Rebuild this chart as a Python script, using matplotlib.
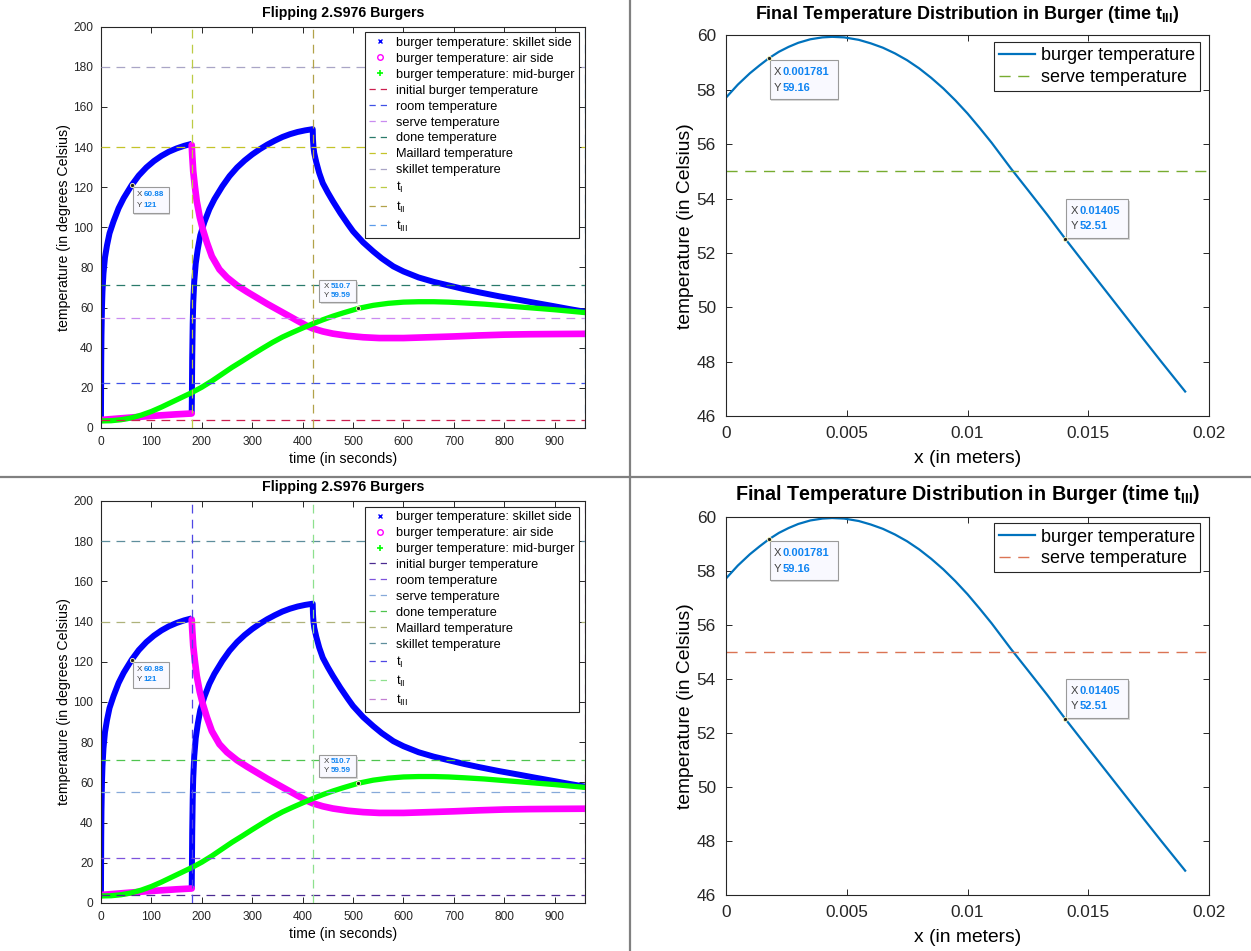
import matplotlib
matplotlib.use('Agg')
import matplotlib.pyplot as plt
import matplotlib.transforms as mtransforms
from matplotlib.lines import Line2D
from matplotlib.patches import Rectangle

plt.rcParams['font.family'] = ['Liberation Sans', 'DejaVu Sans']
plt.rcParams['mathtext.fontset'] = 'custom'
plt.rcParams['mathtext.rm'] = 'Liberation Sans'
plt.rcParams['mathtext.it'] = 'Liberation Sans:italic'
plt.rcParams['mathtext.bf'] = 'Liberation Sans:bold'

# --- burger surface / middle temperatures over time (s, deg C) ---
# skillet side, first side down (0 .. t_I)
skillet_t1 = [0, 0.2, 0.5, 1, 2, 3, 5, 8, 12, 17, 25, 35, 45, 60.88, 75, 90, 105,
              120, 135, 150, 165, 180]
skillet_T1 = [4, 16, 32, 46, 60, 68, 77, 85, 91, 97, 103, 109.5, 114.5, 121, 125.8, 129.8,
              133, 135.6, 137.7, 139.3, 140.6, 141.6]
# skillet side after first flip (t_I .. t_II), then off the heat (t_II .. t_III)
skillet_t2 = [180, 180.2, 180.5, 181, 182, 183, 185, 188, 192, 197, 205, 215, 225,
              240.88, 255, 270, 285, 300, 315, 330, 345, 360, 375, 390, 405, 420,
              420.5, 421.5, 423, 427, 433, 440, 450, 460, 475, 490, 500, 520, 540, 557,
              580, 600, 630, 660, 690, 720, 750, 790, 830, 860, 900, 930, 960]
skillet_T2 = [7, 12, 20, 35, 52, 62, 73, 82, 89, 96, 102.5, 109, 114,
              120.5, 125.5, 129.8, 133.3, 136.3, 138.9, 141.2, 143.2, 145, 146.4, 147.5,
              148.3, 148.9,
              144, 140, 137, 132.5, 127, 122, 117.3, 113, 107, 101.5, 98, 92.5, 88, 84.5,
              80.5, 78, 75, 72.8, 71, 69.2, 67.6, 65.6, 63.8, 62.4, 60.6, 59.2, 57.9]

air_t1 = [0, 30, 60, 90, 120, 150, 180]
air_T1 = [4, 4.6, 5.2, 5.8, 6.3, 6.8, 7.2]
air_t2 = [180, 181, 183, 186, 190, 196, 202, 210, 220, 235, 250, 270, 290, 310,
          330, 350, 370, 390, 410, 420, 440, 460, 490, 520, 552, 600, 651, 700,
          750, 800, 850, 900, 960]
air_T2 = [141, 136, 128, 121, 113, 105, 99, 92.5, 85.5, 79, 75, 71, 67.8, 64.8,
          61.8, 59, 56.2, 53.4, 50.7, 49.6, 48.1, 47, 45.9, 45.2, 44.8, 44.8, 45.2, 45.6,
          46.1, 46.5, 46.7, 46.8, 46.9]

mid_t = [0, 20, 40, 60, 80, 100, 120, 140, 160, 180, 200, 220, 240, 260, 280, 300,
         320, 340, 360, 380, 400, 420, 440, 460, 480, 510.7, 540, 570, 600, 630, 660,
         690, 720, 760, 800, 850, 900, 960]
mid_T = [3.5, 3.6, 4.1, 5, 6.4, 8.2, 10.4, 12.8, 15.2, 17.6, 20.3, 23.4, 26.8, 30.2, 33.3,
         36.5, 39.6, 42.6, 45.3, 47.6, 49.8, 51.9, 53.9, 55.7, 57.3, 59.59, 61.1, 62.1,
         62.7, 62.9, 62.9, 62.7, 62.3, 61.7, 60.9, 59.9, 58.9, 57.5]

# reference temperatures (deg C) and event times (s)
ref_names = ['initial burger temperature', 'room temperature', 'serve temperature',
             'done temperature', 'Maillard temperature', 'skillet temperature']
ref_values = [4, 22.5, 55, 71, 140, 180]
event_names = ['t$_\\mathregular{I}$', 't$_\\mathregular{II}$', 't$_\\mathregular{III}$']
event_times = [180, 420, 960]

# colours for reference / event lines in the two runs
ref_colors_a = ['#CC1F4F', '#3F51E6', '#C98CF0', '#2A7A6A', '#C4C42A', '#A9A5C6']
event_colors_a = ['#BCCB45', '#B2A249', '#5A9BEA']
ref_colors_b = ['#4A2A90', '#7D52DC', '#86A9D9', '#4FC44F', '#AEB27A', '#5E8E9C']
event_colors_b = ['#4F47E4', '#8EE08E', '#C27FD2']

# --- final temperature profile through the burger at t_III ---
pos_x = [0, 0.0005, 0.001, 0.0014, 0.001781, 0.0022, 0.0026, 0.003, 0.0035, 0.004,
         0.0044, 0.0049, 0.0055, 0.006, 0.0065, 0.007, 0.0075, 0.008, 0.0085, 0.009,
         0.0095, 0.01, 0.0105, 0.011, 0.0118, 0.0125, 0.0133, 0.01405, 0.015, 0.016,
         0.017, 0.018, 0.019]
pos_T = [57.70, 58.19, 58.61, 58.90, 59.16, 59.40, 59.58, 59.73, 59.86, 59.93,
         59.95, 59.93, 59.84, 59.71, 59.55, 59.34, 59.09, 58.79, 58.44, 58.05,
         57.61, 57.13, 56.60, 56.05, 55.10, 54.31, 53.40, 52.51, 51.42, 50.28,
         49.14, 48.01, 46.90]
serve_temp = 55

TIP_BLUE = '#0F84F2'


def datatip(ax, x, y, xs, ys, box, fs, dx_val):
    # box = (x0, y0, w, h) in pixels relative to the marked point
    tr = mtransforms.IdentityTransform() + mtransforms.ScaledTranslation(x, y, ax.transData)
    bx, by, bw, bh = box
    ax.add_patch(Rectangle((bx + 1.5, by - 1.5), bw, bh, transform=tr, facecolor='#D8D8D8',
                           edgecolor='none', clip_on=False, zorder=9))
    ax.add_patch(Rectangle((bx, by), bw, bh, transform=tr, facecolor='#F9F9FF',
                           edgecolor='#9A9A9A', lw=0.8, clip_on=False, zorder=10))
    for i, (lab, val) in enumerate([('X', xs), ('Y', ys)]):
        ty = by + bh * (0.70 if i == 0 else 0.30)
        ax.text(bx + 4, ty, lab, transform=tr, fontsize=fs, color='#404040',
                va='center', ha='left', zorder=11, clip_on=False)
        ax.text(bx + 4 + dx_val, ty, val, transform=tr, fontsize=fs, color=TIP_BLUE,
                fontweight='bold', va='center', ha='left', zorder=11, clip_on=False)
    ax.plot([x], [y], 'o', ms=3, mfc='#202020', mec='#FFFFC0', mew=0.6, zorder=12,
            clip_on=False)


def style_axes(ax, fs, pad):
    for s in ax.spines.values():
        s.set_color('#262626')
        s.set_linewidth(0.8)
    ax.tick_params(direction='in', top=True, right=True, length=4, width=0.7,
                   colors='#262626', labelsize=fs, pad=pad)


def history_panel(ax, ref_colors, event_colors):
    ax.plot(skillet_t1, skillet_T1, color='#0000FF', lw=4.3, solid_capstyle='butt')
    ax.plot(skillet_t2, skillet_T2, color='#0000FF', lw=4.3, solid_capstyle='butt')
    ax.plot(air_t1, air_T1, color='#FF00FF', lw=4.8, solid_capstyle='round')
    ax.plot(air_t2, air_T2, color='#FF00FF', lw=4.8, solid_capstyle='round')
    ax.plot(mid_t, mid_T, color='#00FF00', lw=3.8, solid_capstyle='round')

    handles = [
        Line2D([], [], ls='none', marker='x', color='#0000FF', ms=3.5, mew=1),
        Line2D([], [], ls='none', marker='o', mfc='none', mec='#FF00FF', ms=4, mew=1),
        Line2D([], [], ls='none', marker='+', color='#00FF00', ms=4.5, mew=1.2),
    ]
    labels = ['burger temperature: skillet side', 'burger temperature: air side',
              'burger temperature: mid-burger']
    for name, val, c in zip(ref_names, ref_values, ref_colors):
        ax.axhline(val, color=c, lw=0.9, dashes=(7, 5), zorder=5)
        handles.append(Line2D([], [], color=c, lw=0.9, dashes=(5, 4)))
        labels.append(name)
    for name, t, c in zip(event_names, event_times, event_colors):
        ax.axvline(t, color=c, lw=0.9, dashes=(7, 5), zorder=5)
        handles.append(Line2D([], [], color=c, lw=0.9, dashes=(5, 4)))
        labels.append(name)

    ax.set_xlim(0, 960)
    ax.set_ylim(0, 200)
    ax.set_xticks(range(0, 901, 100))
    ax.set_yticks(range(0, 201, 20))
    style_axes(ax, 8.6, 5.5)
    ax.set_title('Flipping 2.S976 Burgers', fontsize=10.2, fontweight='bold', pad=7)
    ax.set_xlabel('time (in seconds)', fontsize=10.2, labelpad=3)
    ax.set_ylabel('temperature (in degrees Celsius)', fontsize=10.2, labelpad=2)
    leg = ax.legend(handles, labels, loc='upper right', bbox_to_anchor=(0.988, 0.986),
                    fontsize=9.2, frameon=True, fancybox=False, edgecolor='#262626',
                    framealpha=1, handlelength=1.7, handletextpad=0.4, labelspacing=0.31,
                    borderpad=0.35, borderaxespad=0)
    leg.get_frame().set_linewidth(0.8)
    leg.set_zorder(20)

    datatip(ax, 60.88, 121, '60.88', '121', (1, -28, 36, 26), 5.8, 7)
    datatip(ax, 510.7, 59.59, '510.7', '59.59', (-39, 6, 37, 22), 5.8, 7)


def profile_panel(ax, serve_color, title_fs):
    ax.plot(pos_x, pos_T, color='#0072BD', lw=1.6, label='burger temperature')
    ax.axhline(serve_temp, color=serve_color, lw=1.0, dashes=(8, 5.5),
               label='serve temperature')
    ax.set_xlim(0, 0.02)
    ax.set_ylim(46, 60)
    ax.set_xticks([0, 0.005, 0.01, 0.015, 0.02])
    ax.set_xticklabels(['0', '0.005', '0.01', '0.015', '0.02'])
    ax.set_yticks(range(46, 61, 2))
    style_axes(ax, 12.4, 7)
    ax.set_title('Final Temperature Distribution in Burger (time t$_{\\mathbf{III}}$)',
                 fontsize=title_fs, fontweight='bold', pad=12)
    ax.set_xlabel('x (in meters)', fontsize=13.9, labelpad=7)
    ax.set_ylabel('temperature (in Celsius)', fontsize=13.9, labelpad=2)
    leg = ax.legend(loc='upper right', bbox_to_anchor=(0.981, 0.983), fontsize=13,
                    frameon=True, fancybox=False, edgecolor='#262626', framealpha=1,
                    handlelength=2.0, handletextpad=0.3, labelspacing=0.25,
                    borderpad=0.3, borderaxespad=0)
    leg.get_frame().set_linewidth(0.8)

    datatip(ax, 0.001781, 59.16, '0.001781', '59.16', (1, -41, 68, 39), 8, 9)
    datatip(ax, 0.01405, 52.51, '0.01405', '52.51', (1, 1, 62, 39), 8, 9)


fig = plt.figure(figsize=(12.51, 9.51), dpi=100)

ax_a = fig.add_axes([0.0807, 0.5500, 0.3869, 0.4220])
ax_b = fig.add_axes([0.0807, 0.0505, 0.3869, 0.4227])
ax_c = fig.add_axes([0.5801, 0.5626, 0.3866, 0.4001])
ax_d = fig.add_axes([0.5801, 0.0589, 0.3866, 0.3978])

history_panel(ax_a, ref_colors_a, event_colors_a)
history_panel(ax_b, ref_colors_b, event_colors_b)
profile_panel(ax_c, '#77AC30', 13)
profile_panel(ax_d, '#DB7454', 14.2)

# panel separators
fig.add_artist(Line2D([630 / 1251, 630 / 1251], [0, 1], color='#808080', lw=1.6,
                      transform=fig.transFigure))
fig.add_artist(Line2D([0, 1], [1 - 477 / 951, 1 - 477 / 951], color='#808080', lw=1.6,
                      transform=fig.transFigure))

fig.savefig('out.png', dpi=100, facecolor='white')
